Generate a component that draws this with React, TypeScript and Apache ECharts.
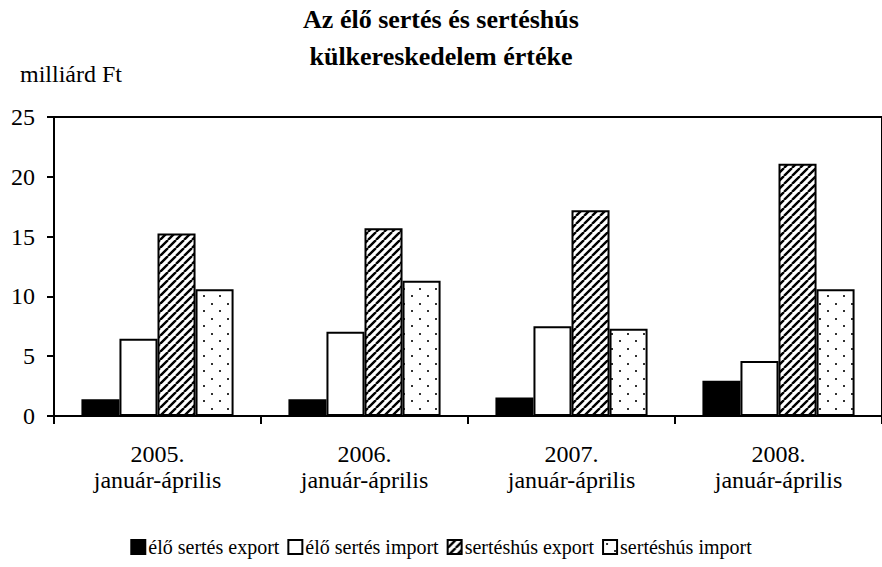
import React, { useEffect, useRef } from "react";
import * as echarts from "echarts";

const categories = [
  "2005.\njanuár-április",
  "2006.\njanuár-április",
  "2007.\njanuár-április",
  "2008.\njanuár-április",
];
const seriesNames = [
  "élő sertés export",
  "élő sertés import",
  "sertéshús export",
  "sertéshús import",
];
const eloSertesExport = [1.4, 1.4, 1.55, 2.95];
const eloSertesImport = [6.45, 7.05, 7.5, 4.6];
const sertashusExport = [15.25, 15.7, 17.2, 21.1];
const sertashusImport = [10.6, 11.3, 7.3, 10.6];
const yTicks = { min: 0, max: 25, interval: 5 };

const FONT = '"Liberation Serif", "Times New Roman", serif';

function hatchPattern() {
  const c = document.createElement("canvas");
  c.width = 8;
  c.height = 8;
  const g = c.getContext("2d")!;
  g.fillStyle = "#fff";
  g.fillRect(0, 0, 8, 8);
  g.strokeStyle = "#000";
  g.lineWidth = 2.4;
  g.beginPath();
  for (const k of [-1, 0, 1]) {
    g.moveTo(k * 8, 8);
    g.lineTo(k * 8 + 8, 0);
  }
  g.stroke();
  return c;
}

function dotPattern() {
  const c = document.createElement("canvas");
  c.width = 16;
  c.height = 15;
  const g = c.getContext("2d")!;
  g.fillStyle = "#fff";
  g.fillRect(0, 0, 16, 15);
  g.fillStyle = "#333";
  g.fillRect(3, 3, 2, 2);
  g.fillRect(11, 10, 2, 2);
  return c;
}

export default function App() {
  const ref = useRef<HTMLDivElement>(null);
  useEffect(() => {
    if (!ref.current) return;
    const chart = echarts.init(ref.current, undefined, { renderer: "svg" });
    const hatch = { image: hatchPattern(), repeat: "repeat" };
    const dots = { image: dotPattern(), repeat: "repeat" };
    const fills: any[] = ["#000", "#fff", hatch, dots];
    const values = [eloSertesExport, eloSertesImport, sertashusExport, sertashusImport];
    chart.setOption({
      animation: false,
      backgroundColor: "#fff",
      textStyle: { fontFamily: FONT, color: "#000" },
      title: {
        text: "Az élő sertés és sertéshús\nkülkereskedelem értéke",
        left: "center",
        top: 1,
        padding: 0,
        textStyle: {
          fontFamily: FONT,
          fontSize: 26,
          fontWeight: "bold",
          color: "#000",
          lineHeight: 37,
        },
      },
      graphic: [
        {
          type: "text",
          left: 20,
          top: 62,
          style: { text: "milliárd Ft", font: `24px ${FONT}`, fill: "#000" },
        },
      ],
      legend: {
        bottom: 5,
        left: "center",
        icon: "rect",
        itemWidth: 14,
        itemHeight: 14,
        itemGap: 8,
        textStyle: { fontFamily: FONT, fontSize: 20, color: "#000", padding: [0, 0, 0, -2] },
        data: seriesNames,
      },
      grid: {
        left: 54,
        top: 117,
        bottom: 151,
        right: -11,
        show: true,
        borderColor: "#000",
        borderWidth: 2,
        containLabel: false,
      },
      xAxis: {
        type: "category",
        data: categories,
        axisLine: { show: true, lineStyle: { color: "#000", width: 2 } },
        axisTick: { show: true, length: 8, alignWithLabel: false, lineStyle: { color: "#000", width: 2 } },
        axisLabel: {
          interval: 0,
          fontFamily: FONT,
          fontSize: 24,
          color: "#000",
          lineHeight: 26,
          margin: 25,
        },
      },
      yAxis: {
        type: "value",
        min: yTicks.min,
        max: yTicks.max,
        interval: yTicks.interval,
        axisLine: { show: true, lineStyle: { color: "#000", width: 2 } },
        axisTick: { show: true, length: 7, lineStyle: { color: "#000", width: 2 } },
        axisLabel: { fontFamily: FONT, fontSize: 24, color: "#000", margin: 19 },
        splitLine: { show: false },
      },
      series: seriesNames.map((name, i) => ({
        name,
        type: "bar",
        data: values[i],
        barGap: 0,
        barCategoryGap: "26.5%",
        itemStyle: { color: fills[i], borderColor: "#000", borderWidth: 2 },
      })),
    });
    return () => chart.dispose();
  }, []);
  return (
    <div
      ref={ref}
      style={{ position: "fixed", left: 0, top: 0, width: 882, height: 567, background: "#fff" }}
    />
  );
}
